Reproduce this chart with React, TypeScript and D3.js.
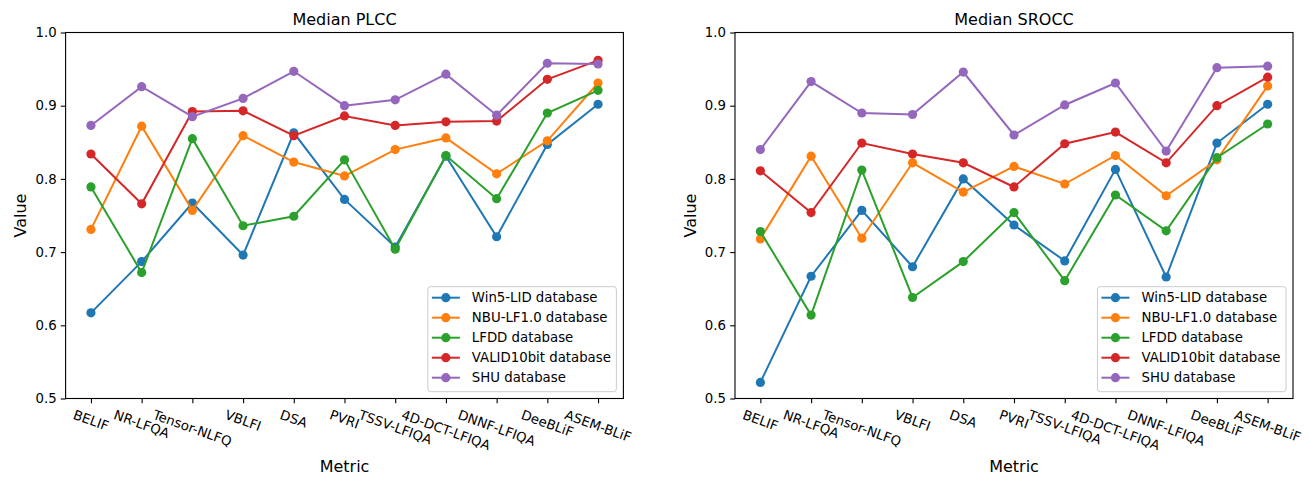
import React, { useRef, useEffect } from "react";
import * as d3 from "d3";

const metrics = ["BELIF", "NR-LFQA", "Tensor-NLFQ", "VBLFI", "DSA", "PVRI", "TSSV-LFIQA", "4D-DCT-LFIQA", "DNNF-LFIQA", "DeeBLiF", "ASEM-BLiF"];
const databases = ["Win5-LID database", "NBU-LF1.0 database", "LFDD database", "VALID10bit database", "SHU database"];
const yTicks = [0.5, 0.6, 0.7, 0.8, 0.9, 1.0];

// Median PLCC
const plccWin5 = [0.617, 0.687, 0.767, 0.696, 0.863, 0.772, 0.707, 0.831, 0.721, 0.847, 0.902];
const plccNbu = [0.731, 0.872, 0.757, 0.859, 0.823, 0.804, 0.840, 0.856, 0.807, 0.852, 0.931];
const plccLfdd = [0.789, 0.672, 0.855, 0.736, 0.749, 0.826, 0.704, 0.832, 0.773, 0.890, 0.921];
const plccValid = [0.834, 0.766, 0.892, 0.893, 0.859, 0.886, 0.873, 0.878, 0.879, 0.936, 0.962];
const plccShu = [0.873, 0.926, 0.885, 0.910, 0.947, 0.900, 0.908, 0.943, 0.887, 0.958, 0.957];

// Median SROCC
const sroccWin5 = [0.522, 0.667, 0.757, 0.680, 0.800, 0.737, 0.688, 0.813, 0.666, 0.849, 0.902];
const sroccNbu = [0.718, 0.831, 0.719, 0.822, 0.782, 0.817, 0.793, 0.832, 0.777, 0.826, 0.927];
const sroccLfdd = [0.728, 0.614, 0.812, 0.638, 0.687, 0.754, 0.661, 0.778, 0.729, 0.829, 0.875];
const sroccValid = [0.811, 0.754, 0.849, 0.834, 0.822, 0.789, 0.848, 0.864, 0.822, 0.900, 0.939];
const sroccShu = [0.840, 0.933, 0.890, 0.888, 0.946, 0.860, 0.901, 0.931, 0.838, 0.952, 0.954];

const colors = ["#1f77b4", "#ff7f0e", "#2ca02c", "#d62728", "#9467bd"];

const panels = [
  { title: "Median PLCC", x0: 65.6, x1: 623.4, series: [plccWin5, plccNbu, plccLfdd, plccValid, plccShu] },
  { title: "Median SROCC", x0: 735, x1: 1293, series: [sroccWin5, sroccNbu, sroccLfdd, sroccValid, sroccShu] },
];

const FONT = "DejaVu Sans, sans-serif";
const FS = 13.3;
const LABEL_FS = 16;

export default function App() {
  const svgRef = useRef<SVGSVGElement>(null);

  useEffect(() => {
    const svg = d3.select(svgRef.current);
    svg.selectAll("*").remove();
    const top = 32.5, bottom = 398.5;

    panels.forEach((p) => {
      const x = d3.scalePoint<string>().domain(metrics).range([p.x0, p.x1]).padding(0.5);
      const y = d3.scaleLinear().domain([0.5, 1.0]).range([bottom, top]);
      const g = svg.append("g");

      // lines + markers
      p.series.forEach((vals, i) => {
        const myLine = d3.line<number>()
          .x((d, j) => x(metrics[j]) as number)
          .y((d) => y(d));
        g.append("path")
          .datum(vals)
          .attr("d", myLine)
          .attr("fill", "none")
          .attr("stroke", colors[i])
          .attr("stroke-width", 2);
        g.append("g")
          .selectAll("circle")
          .data(vals)
          .join("circle")
          .attr("cx", (d, j) => x(metrics[j]) as number)
          .attr("cy", (d) => y(d))
          .attr("r", 4.6)
          .attr("fill", colors[i]);
      });

      // y axis
      const yAxis = d3.axisLeft(y).tickValues(yTicks).tickFormat(d3.format(".1f")).tickSize(4.8).tickPadding(4.2);
      const ga = g.append("g").attr("transform", `translate(${p.x0},0)`).call(yAxis);
      ga.select(".domain").remove();
      ga.selectAll("line").attr("stroke", "#000").attr("stroke-width", 1.1);
      ga.selectAll("text").attr("font-family", FONT).attr("font-size", FS).attr("fill", "#000");

      // x axis
      const xAxis = d3.axisBottom(x).tickSize(4.8).tickFormat(() => "");
      const gx = g.append("g").attr("transform", `translate(0,${bottom})`).call(xAxis);
      gx.select(".domain").remove();
      gx.selectAll("line").attr("stroke", "#000").attr("stroke-width", 1.1);

      const ang = 20 * Math.PI / 180;
      const y0 = bottom + 9.4;
      metrics.forEach((m) => {
        const t = g.append("text")
          .attr("font-family", FONT)
          .attr("font-size", FS)
          .attr("text-anchor", "middle")
          .attr("dominant-baseline", "central")
          .text(m);
        const w = (t.node() as SVGTextElement).getComputedTextLength();
        const h = FS * 1.0;
        const H = w * Math.sin(ang) + h * Math.cos(ang);
        t.attr("transform", `translate(${x(m)},${y0 + H / 2}) rotate(20)`);
      });

      // frame
      g.append("rect")
        .attr("x", p.x0).attr("y", top)
        .attr("width", p.x1 - p.x0).attr("height", bottom - top)
        .attr("fill", "none").attr("stroke", "#000").attr("stroke-width", 1.1);

      // titles and labels
      const cx = (p.x0 + p.x1) / 2;
      g.append("text").attr("x", cx).attr("y", 25).attr("text-anchor", "middle")
        .attr("font-family", FONT).attr("font-size", 16).text(p.title);
      g.append("text").attr("x", cx).attr("y", 466).attr("text-anchor", "middle").attr("dominant-baseline", "central")
        .attr("font-family", FONT).attr("font-size", LABEL_FS).text("Metric");
      g.append("text").attr("transform", `translate(${p.x0 - 45},${(top + bottom) / 2}) rotate(-90)`)
        .attr("text-anchor", "middle").attr("dominant-baseline", "central")
        .attr("font-family", FONT).attr("font-size", LABEL_FS).text("Value");

      // legend
      const lg = g.append("g");
      const texts = databases.map((d) =>
        lg.append("text").attr("font-family", FONT).attr("font-size", FS)
          .attr("dominant-baseline", "central").text(d)
      );
      const maxW = d3.max(texts, (t) => (t.node() as SVGTextElement).getComputedTextLength()) || 0;
      const boxR = p.x1 - 7;
      const boxB = bottom - 6.8;
      const boxH = 105;
      const boxL = boxR - 5.5 - maxW - 44;
      lg.insert("rect", "text")
        .attr("x", boxL).attr("y", boxB - boxH)
        .attr("width", boxR - boxL).attr("height", boxH)
        .attr("rx", 2.8)
        .attr("fill", "#fff").attr("fill-opacity", 0.8)
        .attr("stroke", "#cccccc").attr("stroke-width", 1);
      databases.forEach((d, i) => {
        const ry = boxB - boxH + 11 + i * 20;
        lg.append("line").attr("x1", boxL + 4).attr("x2", boxL + 32).attr("y1", ry).attr("y2", ry)
          .attr("stroke", colors[i]).attr("stroke-width", 2);
        lg.append("circle").attr("cx", boxL + 18).attr("cy", ry).attr("r", 4.6).attr("fill", colors[i]);
        texts[i].attr("x", boxL + 44).attr("y", ry);
      });
    });
  }, []);

  return (
    <svg
      ref={svgRef}
      width={1309}
      height={477}
      style={{ position: "absolute", left: 0, top: 0, background: "#fff" }}
    />
  );
}
